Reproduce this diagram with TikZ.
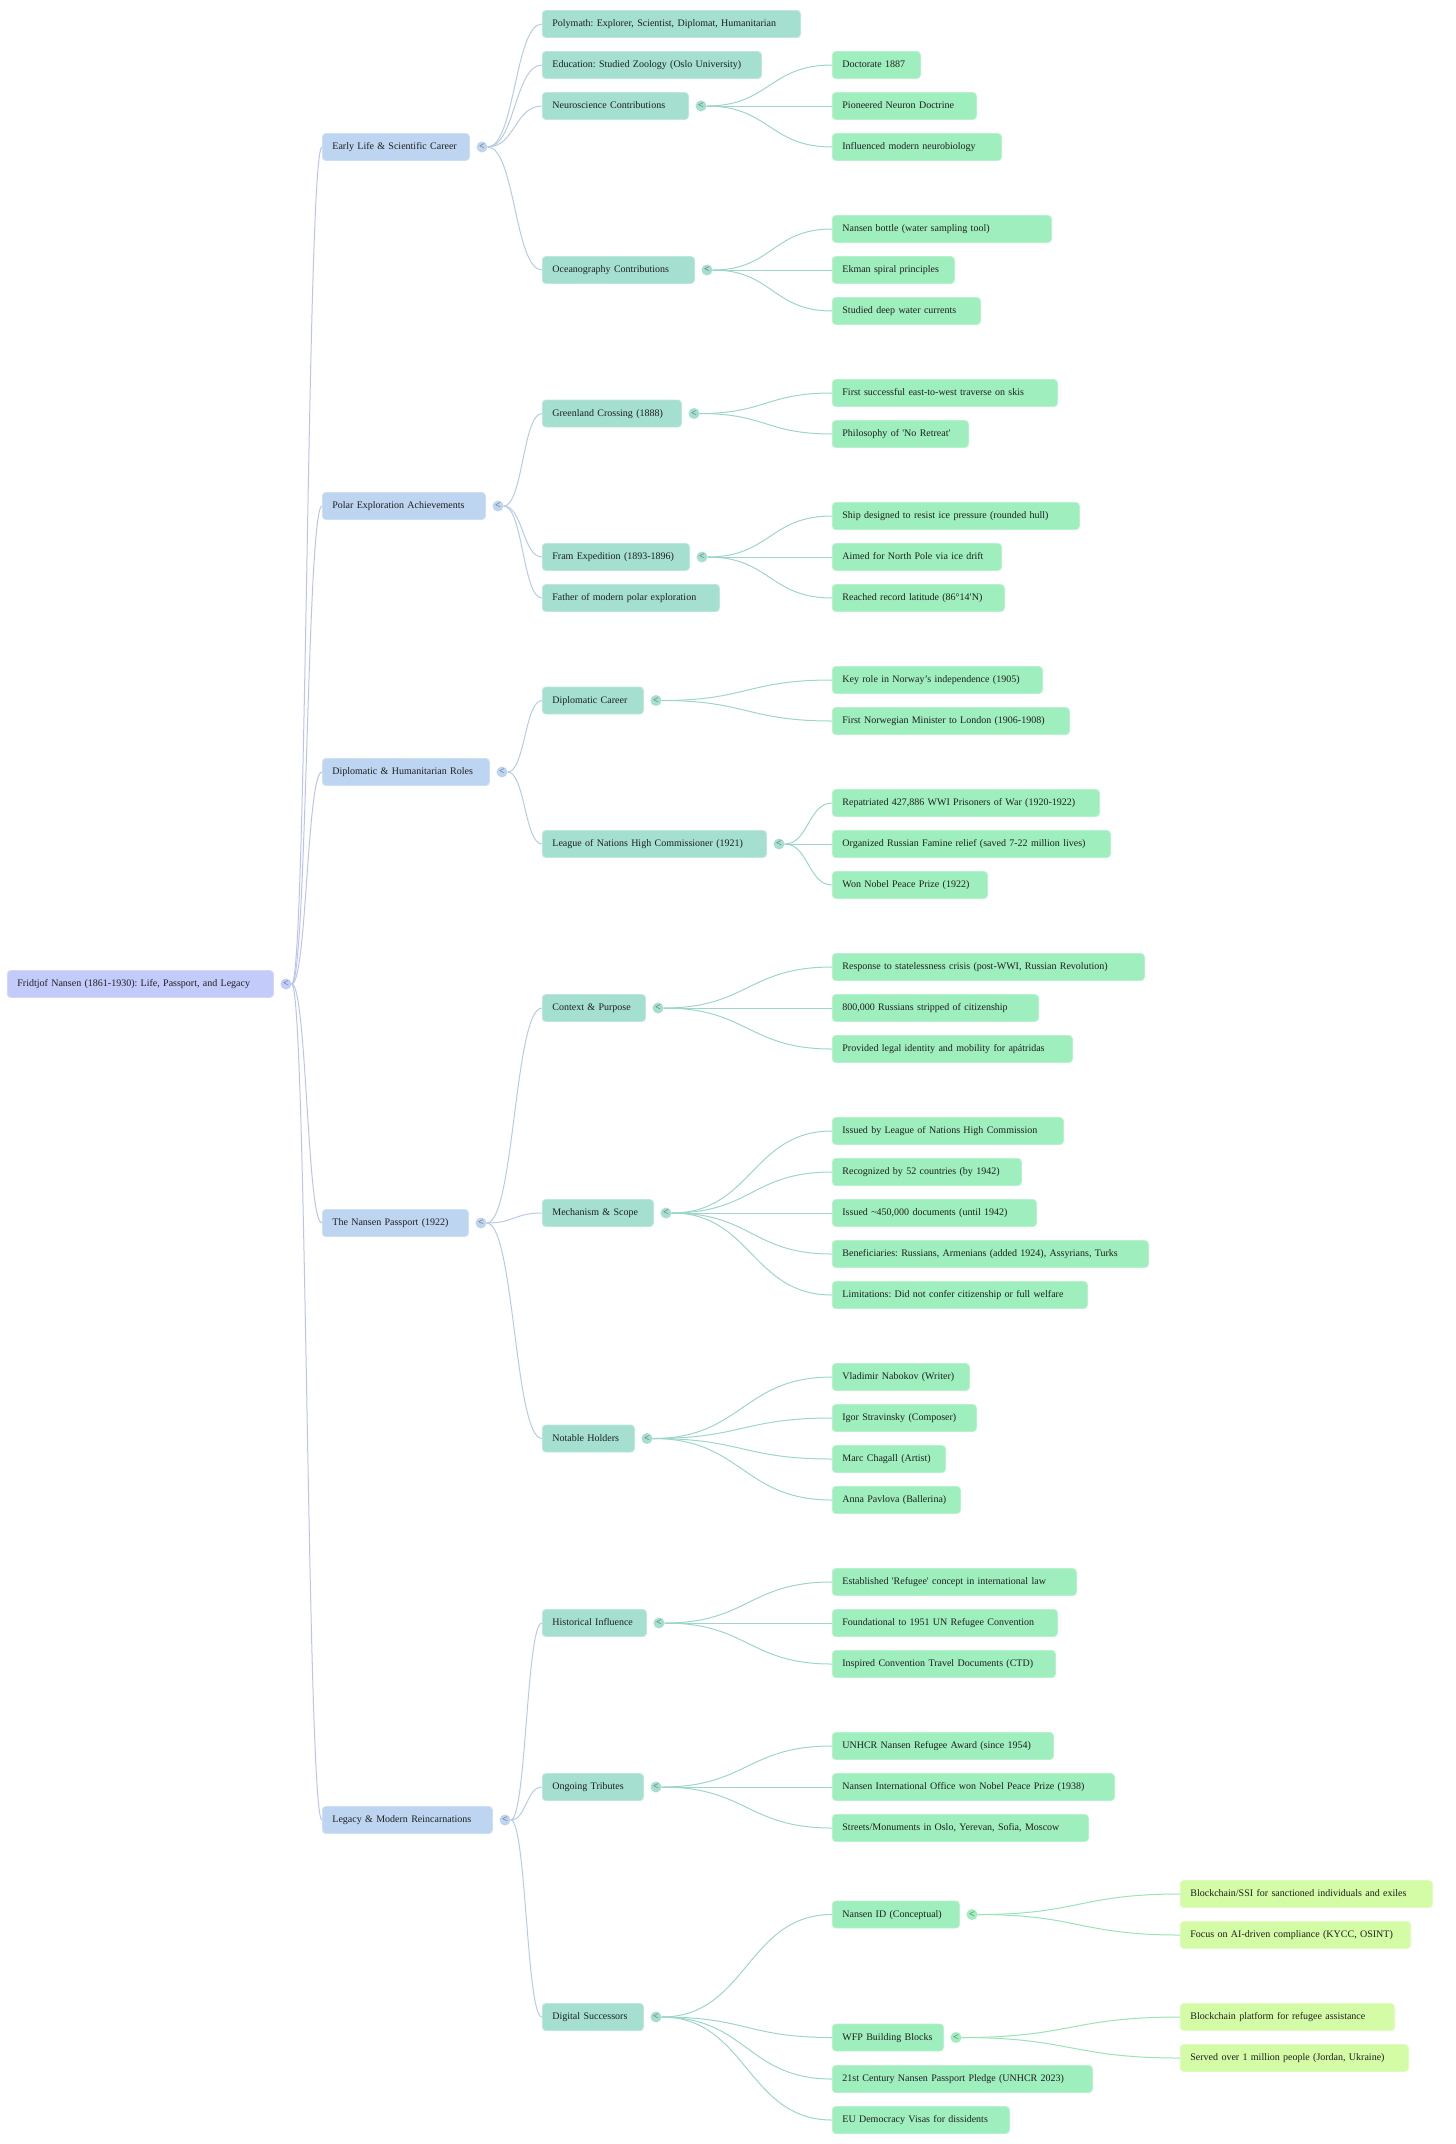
\documentclass[tikz,border=0pt]{standalone}
\usepackage{fontspec}
\setmainfont{Liberation Serif}
\usetikzlibrary{positioning,calc}
\frenchspacing

\definecolor{rootc}{RGB}{195,203,250}
\definecolor{lonec}{RGB}{189,213,240}
\definecolor{ltwoc}{RGB}{164,223,208}
\definecolor{lthreec}{RGB}{159,238,190}
\definecolor{lfourc}{RGB}{212,251,166}

\tikzset{
  mm/.style={anchor=west, rounded corners=3.5pt, inner xsep=10pt, inner ysep=0pt, minimum height=27pt,
    text height=7pt, text depth=2pt, align=left, line width=0.8pt, text=black!88,
    font=\fontsize{10}{12}\selectfont},
  rootbox/.style={mm, fill=rootc, draw=rootc!75!white},
  onebox/.style={mm, fill=lonec, draw=lonec!75!white},
  twobox/.style={mm, fill=ltwoc, draw=ltwoc!75!white},
  threebox/.style={mm, fill=lthreec, draw=lthreec!75!white},
  fourbox/.style={mm, fill=lfourc, draw=lfourc!75!white},
  fold/.style={circle, inner sep=0pt, minimum size=11pt, right=6.5pt of #1, text=black!65,
    font=\fontsize{10}{10}\selectfont},
  link/.style={line width=1pt, to path={let \p1=(\tikztostart), \p2=(\tikztotarget) in
    .. controls ({(\x1+\x2)/2},\y1) and ({(\x1+\x2)/2},\y2) .. (\tikztotarget)}},
}

\begin{document}
\begin{tikzpicture}[x=1pt, y=-1pt]
  \useasboundingbox (0,0) rectangle (1456,2144);

  % root
  \node[rootbox, text width=246pt] (root) at (7,984) {Fridtjof Nansen (1861-1930): Life, Passport, and Legacy};
  \node[fold=root, fill=rootc] (c-root) {<};

  % main branches
  \node[onebox, text width=127pt] (early) at (322,147) {Early Life \& Scientific Career};
  \node[onebox, text width=143pt] (polar) at (322,506) {Polar Exploration Achievements};
  \node[onebox, text width=147pt] (dipl) at (322,772) {Diplomatic \& Humanitarian Roles};
  \node[onebox, text width=126pt] (passport) at (322,1223) {The Nansen Passport (1922)};
  \node[onebox, text width=150pt] (legacy) at (322,1820) {Legacy \& Modern Reincarnations};
  \node[fold=early, fill=lonec] (c-early) {<};
  \node[fold=polar, fill=lonec] (c-polar) {<};
  \node[fold=dipl, fill=lonec] (c-dipl) {<};
  \node[fold=passport, fill=lonec] (c-passport) {<};
  \node[fold=legacy, fill=lonec] (c-legacy) {<};

  % early life
  \node[twobox, text width=238pt] (poly) at (542,24) {Polymath: Explorer, Scientist, Diplomat, Humanitarian};
  \node[twobox, text width=199pt] (educ) at (542,65) {Education: Studied Zoology (Oslo University)};
  \node[twobox, text width=126pt] (neuro) at (542,106) {Neuroscience Contributions};
  \node[twobox, text width=132pt] (ocean) at (542,270) {Oceanography Contributions};
  \node[fold=neuro, fill=ltwoc] (c-neuro) {<};
  \node[fold=ocean, fill=ltwoc] (c-ocean) {<};
  \node[threebox, text width=68pt] (doctorate) at (832,65) {Doctorate 1887};
  \node[threebox, text width=124pt] (neuron) at (832,106) {Pioneered Neuron Doctrine};
  \node[threebox, text width=149pt] (neurobio) at (832,147) {Influenced modern neurobiology};
  \node[threebox, text width=199pt] (bottle) at (832,229) {Nansen bottle (water sampling tool)};
  \node[threebox, text width=102pt] (ekman) at (832,270) {Ekman spiral principles};
  \node[threebox, text width=128pt] (currents) at (832,311) {Studied deep water currents};

  % polar exploration
  \node[twobox, text width=119pt] (greenland) at (542,413.5) {Greenland Crossing (1888)};
  \node[twobox, text width=127pt] (fram) at (542,557) {Fram Expedition (1893-1896)};
  \node[twobox, text width=157pt] (father) at (542,598) {Father of modern polar exploration};
  \node[fold=greenland, fill=ltwoc] (c-greenland) {<};
  \node[fold=fram, fill=ltwoc] (c-fram) {<};
  \node[threebox, text width=205pt] (traverse) at (832,393) {First successful east-to-west traverse on skis};
  \node[threebox, text width=116pt] (retreat) at (832,434) {Philosophy of \textquotesingle No Retreat\textquotesingle};
  \node[threebox, text width=227pt] (ship) at (832,516) {Ship designed to resist ice pressure (rounded hull)};
  \node[threebox, text width=149pt] (drift) at (832,557) {Aimed for North Pole via ice drift};
  \node[threebox, text width=152pt] (latitude) at (832,598) {Reached record latitude (86°14′N)};

  % diplomatic and humanitarian
  \node[twobox, text width=81pt] (career) at (542,700.5) {Diplomatic Career};
  \node[twobox, text width=204pt] (league) at (542,844) {League of Nations High Commissioner (1921)};
  \node[fold=career, fill=ltwoc] (c-career) {<};
  \node[fold=league, fill=ltwoc] (c-league) {<};
  \node[threebox, text width=190pt] (independence) at (832,680) {Key role in Norway's independence (1905)};
  \node[threebox, text width=217pt] (minister) at (832,721) {First Norwegian Minister to London (1906-1908)};
  \node[threebox, text width=247pt] (prisoners) at (832,803) {Repatriated 427,886 WWI Prisoners of War (1920-1922)};
  \node[threebox, text width=258pt] (famine) at (832,844) {Organized Russian Famine relief (saved 7-22 million lives)};
  \node[threebox, text width=135pt] (nobel) at (832,885) {Won Nobel Peace Prize (1922)};

  % nansen passport
  \node[twobox, text width=83pt] (context) at (542,1008) {Context \& Purpose};
  \node[twobox, text width=91pt] (mechanism) at (542,1213) {Mechanism \& Scope};
  \node[twobox, text width=72pt] (holders) at (542,1438.5) {Notable Holders};
  \node[fold=context, fill=ltwoc] (c-context) {<};
  \node[fold=mechanism, fill=ltwoc] (c-mechanism) {<};
  \node[fold=holders, fill=ltwoc] (c-holders) {<};
  \node[threebox, text width=292pt] (crisis) at (832,967) {Response to statelessness crisis (post-WWI, Russian Revolution)};
  \node[threebox, text width=186pt] (russians) at (832,1008) {800,000 Russians stripped of citizenship};
  \node[threebox, text width=220pt] (identity) at (832,1049) {Provided legal identity and mobility for apátridas};
  \node[threebox, text width=211pt] (issuer) at (832,1131) {Issued by League of Nations High Commission};
  \node[threebox, text width=169pt] (countries) at (832,1172) {Recognized by 52 countries (by 1942)};
  \node[threebox, text width=184pt] (documents) at (832,1213) {Issued \textasciitilde450,000 documents (until 1942)};
  \node[threebox, text width=296pt] (beneficiaries) at (832,1254) {Beneficiaries: Russians, Armenians (added 1924), Assyrians, Turks};
  \node[threebox, text width=235pt] (limitations) at (832,1295) {Limitations: Did not confer citizenship or full welfare};
  \node[threebox, text width=117pt] (nabokov) at (832,1377) {Vladimir Nabokov (Writer)};
  \node[threebox, text width=124pt] (stravinsky) at (832,1418) {Igor Stravinsky (Composer)};
  \node[threebox, text width=93pt] (chagall) at (832,1459) {Marc Chagall (Artist)};
  \node[threebox, text width=108pt] (pavlova) at (832,1500) {Anna Pavlova (Ballerina)};

  % legacy
  \node[twobox, text width=84pt] (historical) at (542,1623) {Historical Influence};
  \node[twobox, text width=81pt] (tributes) at (542,1787) {Ongoing Tributes};
  \node[twobox, text width=81pt] (digital) at (542,2017) {Digital Successors};
  \node[fold=historical, fill=ltwoc] (c-historical) {<};
  \node[fold=tributes, fill=ltwoc] (c-tributes) {<};
  \node[fold=digital, fill=ltwoc] (c-digital) {<};
  \node[threebox, text width=224pt] (refugee) at (832,1582) {Established \textquotesingle Refugee\textquotesingle{} concept in international law};
  \node[threebox, text width=205pt] (convention) at (832,1623) {Foundational to 1951 UN Refugee Convention};
  \node[threebox, text width=203pt] (ctd) at (832,1664) {Inspired Convention Travel Documents (CTD)};
  \node[threebox, text width=201pt] (award) at (832,1746) {UNHCR Nansen Refugee Award (since 1954)};
  \node[threebox, text width=262pt] (office) at (832,1787) {Nansen International Office won Nobel Peace Prize (1938)};
  \node[threebox, text width=236pt] (streets) at (832,1828) {Streets/Monuments in Oslo, Yerevan, Sofia, Moscow};
  \node[threebox, text width=107pt] (nansenid) at (832,1914.5) {Nansen ID (Conceptual)};
  \node[threebox, text width=91pt] (wfp) at (832,2037.5) {WFP Building Blocks};
  \node[threebox, text width=240pt] (pledge) at (832,2079) {21st Century Nansen Passport Pledge (UNHCR 2023)};
  \node[threebox, text width=157pt] (visas) at (832,2120) {EU Democracy Visas for dissidents};
  \node[fold=nansenid, fill=lthreec] (c-nansenid) {<};
  \node[fold=wfp, fill=lthreec] (c-wfp) {<};
  \node[fourbox, text width=232pt] (ssi) at (1180,1894) {Blockchain/SSI for sanctioned individuals and exiles};
  \node[fourbox, text width=210pt] (compliance) at (1180,1935) {Focus on AI-driven compliance (KYCC, OSINT)};
  \node[fourbox, text width=194pt] (platform) at (1180,2017) {Blockchain platform for refugee assistance};
  \node[fourbox, text width=208pt] (served) at (1180,2058) {Served over 1 million people (Jordan, Ukraine)};

  % links from root
  \draw[link, draw=rootc!96!black] (c-root.east) to (early.west);
  \draw[link, draw=rootc!96!black] (c-root.east) to (polar.west);
  \draw[link, draw=rootc!96!black] (c-root.east) to (dipl.west);
  \draw[link, draw=rootc!96!black] (c-root.east) to (passport.west);
  \draw[link, draw=rootc!96!black] (c-root.east) to (legacy.west);

  % links from main branches
  \draw[link, draw=lonec!96!black] (c-early.east) to (poly.west);
  \draw[link, draw=lonec!96!black] (c-early.east) to (educ.west);
  \draw[link, draw=lonec!96!black] (c-early.east) to (neuro.west);
  \draw[link, draw=lonec!96!black] (c-early.east) to (ocean.west);
  \draw[link, draw=lonec!96!black] (c-polar.east) to (greenland.west);
  \draw[link, draw=lonec!96!black] (c-polar.east) to (fram.west);
  \draw[link, draw=lonec!96!black] (c-polar.east) to (father.west);
  \draw[link, draw=lonec!96!black] (c-dipl.east) to (career.west);
  \draw[link, draw=lonec!96!black] (c-dipl.east) to (league.west);
  \draw[link, draw=lonec!96!black] (c-passport.east) to (context.west);
  \draw[link, draw=lonec!96!black] (c-passport.east) to (mechanism.west);
  \draw[link, draw=lonec!96!black] (c-passport.east) to (holders.west);
  \draw[link, draw=lonec!96!black] (c-legacy.east) to (historical.west);
  \draw[link, draw=lonec!96!black] (c-legacy.east) to (tributes.west);
  \draw[link, draw=lonec!96!black] (c-legacy.east) to (digital.west);

  % links from sub topics
  \draw[link, draw=ltwoc!96!black] (c-neuro.east) to (doctorate.west);
  \draw[link, draw=ltwoc!96!black] (c-neuro.east) to (neuron.west);
  \draw[link, draw=ltwoc!96!black] (c-neuro.east) to (neurobio.west);
  \draw[link, draw=ltwoc!96!black] (c-ocean.east) to (bottle.west);
  \draw[link, draw=ltwoc!96!black] (c-ocean.east) to (ekman.west);
  \draw[link, draw=ltwoc!96!black] (c-ocean.east) to (currents.west);
  \draw[link, draw=ltwoc!96!black] (c-greenland.east) to (traverse.west);
  \draw[link, draw=ltwoc!96!black] (c-greenland.east) to (retreat.west);
  \draw[link, draw=ltwoc!96!black] (c-fram.east) to (ship.west);
  \draw[link, draw=ltwoc!96!black] (c-fram.east) to (drift.west);
  \draw[link, draw=ltwoc!96!black] (c-fram.east) to (latitude.west);
  \draw[link, draw=ltwoc!96!black] (c-career.east) to (independence.west);
  \draw[link, draw=ltwoc!96!black] (c-career.east) to (minister.west);
  \draw[link, draw=ltwoc!96!black] (c-league.east) to (prisoners.west);
  \draw[link, draw=ltwoc!96!black] (c-league.east) to (famine.west);
  \draw[link, draw=ltwoc!96!black] (c-league.east) to (nobel.west);
  \draw[link, draw=ltwoc!96!black] (c-context.east) to (crisis.west);
  \draw[link, draw=ltwoc!96!black] (c-context.east) to (russians.west);
  \draw[link, draw=ltwoc!96!black] (c-context.east) to (identity.west);
  \draw[link, draw=ltwoc!96!black] (c-mechanism.east) to (issuer.west);
  \draw[link, draw=ltwoc!96!black] (c-mechanism.east) to (countries.west);
  \draw[link, draw=ltwoc!96!black] (c-mechanism.east) to (documents.west);
  \draw[link, draw=ltwoc!96!black] (c-mechanism.east) to (beneficiaries.west);
  \draw[link, draw=ltwoc!96!black] (c-mechanism.east) to (limitations.west);
  \draw[link, draw=ltwoc!96!black] (c-holders.east) to (nabokov.west);
  \draw[link, draw=ltwoc!96!black] (c-holders.east) to (stravinsky.west);
  \draw[link, draw=ltwoc!96!black] (c-holders.east) to (chagall.west);
  \draw[link, draw=ltwoc!96!black] (c-holders.east) to (pavlova.west);
  \draw[link, draw=ltwoc!96!black] (c-historical.east) to (refugee.west);
  \draw[link, draw=ltwoc!96!black] (c-historical.east) to (convention.west);
  \draw[link, draw=ltwoc!96!black] (c-historical.east) to (ctd.west);
  \draw[link, draw=ltwoc!96!black] (c-tributes.east) to (award.west);
  \draw[link, draw=ltwoc!96!black] (c-tributes.east) to (office.west);
  \draw[link, draw=ltwoc!96!black] (c-tributes.east) to (streets.west);
  \draw[link, draw=ltwoc!96!black] (c-digital.east) to (nansenid.west);
  \draw[link, draw=ltwoc!96!black] (c-digital.east) to (wfp.west);
  \draw[link, draw=ltwoc!96!black] (c-digital.east) to (pledge.west);
  \draw[link, draw=ltwoc!96!black] (c-digital.east) to (visas.west);

  % links to the last level
  \draw[link, draw=lthreec!96!black] (c-nansenid.east) to (ssi.west);
  \draw[link, draw=lthreec!96!black] (c-nansenid.east) to (compliance.west);
  \draw[link, draw=lthreec!96!black] (c-wfp.east) to (platform.west);
  \draw[link, draw=lthreec!96!black] (c-wfp.east) to (served.west);
\end{tikzpicture}
\end{document}
